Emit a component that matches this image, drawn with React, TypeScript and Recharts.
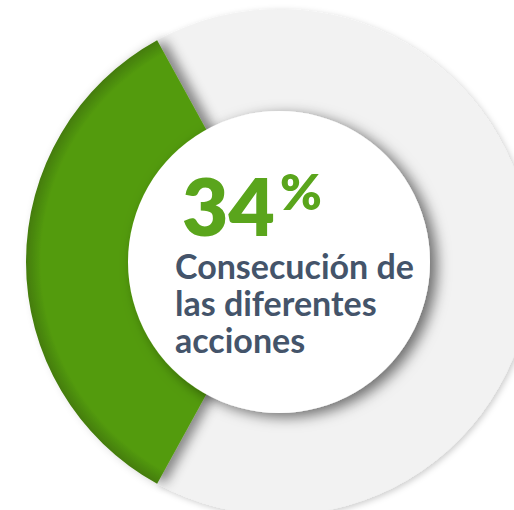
import React from 'react'
import { PieChart, Pie, Cell, Label } from 'recharts'

// share of the actions achieved, rest drawn in grey
const segments = ['Resto', 'Consecución']
const values = [66, 34]
const colors = ['#f2f2f2', 'url(#greenFill)']
const filters = ['url(#ringShadow)', 'url(#greenShadow)']

const percentLabel = '34'
const captionLines = ['Consecución de', 'las diferentes', 'acciones']

const ringData = segments.map((name, i) => ({ name, value: values[i] }))
const discData = [{ name: 'centro', value: 1 }]

const CX = 279
const CY = 262
// green slice is centred on the left (180°), grey starts where green ends
const greenSweep = (values[1] / 100) * 360
const start = 180 + greenSweep / 2

const CenterText = ({ viewBox }: any) => {
  const cx = viewBox?.cx ?? CX
  const cy = viewBox?.cy ?? CY
  const font = 'Lato, "Open Sans", sans-serif'
  return (
    <g>
      <text x={cx - 97} y={cy - 26} fill="#5aa51c" fontFamily={font} fontWeight={800} fontSize={80}>
        {percentLabel}
      </text>
      <text x={cx + 1} y={cy - 52} fill="#5aa51c" fontFamily={font} fontWeight={800} fontSize={50}>
        %
      </text>
      {captionLines.map((line, i) => (
        <text
          key={line}
          x={cx - 104}
          y={cy + 17 + i * 37}
          fill="#44546a"
          fontFamily={font}
          fontWeight={700}
          fontSize={34}
        >
          {line}
        </text>
      ))}
    </g>
  )
}

export default function App() {
  return (
    <div style={{ position: 'absolute', left: 0, top: 0, width: 514, height: 510, background: '#fff' }}>
      <PieChart width={514} height={510} margin={{ top: 0, right: 0, bottom: 0, left: 0 }}>
        <defs>
          <radialGradient id="greenFill" gradientUnits="userSpaceOnUse" cx={CX} cy={CY} r={253}>
            <stop offset="0.94" stopColor="#539b0c" />
            <stop offset="1" stopColor="#447c0a" />
          </radialGradient>
          <filter id="greenShadow" x="-30%" y="-30%" width="160%" height="160%">
            <feDropShadow dx={8} dy={0} stdDeviation={6} floodColor="#000" floodOpacity={0.45} />
          </filter>
          <filter id="ringShadow" x="-10%" y="-10%" width="120%" height="120%">
            <feDropShadow dx={2} dy={2} stdDeviation={3} floodColor="#000" floodOpacity={0.2} />
          </filter>
          <filter id="discShadow" x="-20%" y="-20%" width="140%" height="140%">
            <feDropShadow dx={7} dy={4} stdDeviation={7} floodColor="#000" floodOpacity={0.55} />
          </filter>
        </defs>
        <Pie
          data={ringData}
          dataKey="value"
          nameKey="name"
          cx={CX}
          cy={CY}
          innerRadius={140}
          outerRadius={253}
          startAngle={start}
          endAngle={start + 360}
          stroke="none"
          isAnimationActive={false}
        >
          {ringData.map((d, i) => (
            <Cell key={d.name} fill={colors[i]} filter={filters[i]} />
          ))}
        </Pie>
        <Pie
          data={discData}
          dataKey="value"
          cx={CX}
          cy={CY}
          innerRadius={0}
          outerRadius={151}
          stroke="none"
          fill="#ffffff"
          isAnimationActive={false}
        >
          <Cell fill="#ffffff" filter="url(#discShadow)" />
          <Label position="center" content={<CenterText />} />
        </Pie>
      </PieChart>
    </div>
  )
}
